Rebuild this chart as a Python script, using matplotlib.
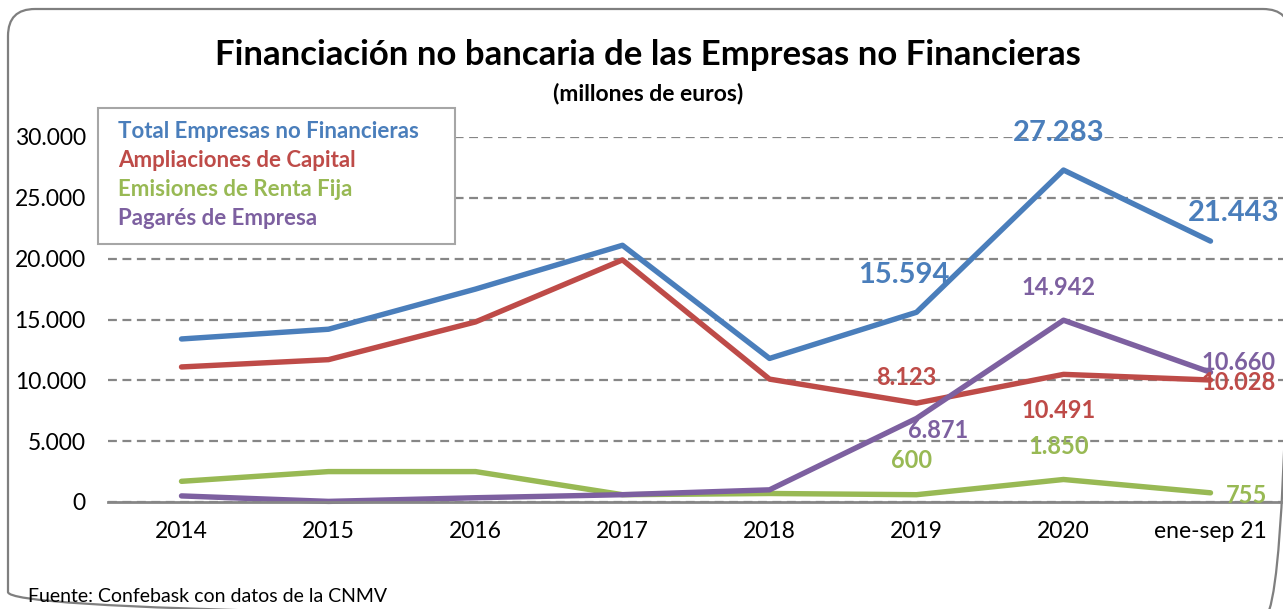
import numpy as np
import matplotlib.pyplot as plt
from matplotlib.patches import FancyBboxPatch, Rectangle
from matplotlib.ticker import FuncFormatter

plt.rcParams['font.family'] = ['Lato', 'DejaVu Sans']

# data (millones de euros)
periodos = ['2014', '2015', '2016', '2017', '2018', '2019', '2020', 'ene-sep 21']
total = [13400, 14200, 17500, 21100, 11800, 15594, 27283, 21443]
capital = [11100, 11700, 14800, 19900, 10100, 8123, 10491, 10028]
renta_fija = [1700, 2500, 2500, 600, 700, 600, 1850, 755]
pagares = [500, 50, 350, 600, 1000, 6871, 14942, 10660]

series = [
    ('Total Empresas no Financieras', total, '#4A7EBB'),
    ('Ampliaciones de Capital', capital, '#BE4B48'),
    ('Emisiones de Renta Fija', renta_fija, '#98B954'),
    ('Pagarés de Empresa', pagares, '#7D60A0'),
]

# labels shown for the last three periods: (series idx, point idx, dx px, dy px, size)
etiquetas = [
    (0, 5, -13, 37, 21), (0, 6, -5, 37, 21), (0, 7, 23, 28, 21),
    (1, 5, -10, 26, 17), (1, 6, -5, -36, 17), (1, 7, 28, -3, 17),
    (2, 5, -5, 34, 17), (2, 6, -5, 33, 17), (2, 7, 36, -3, 17),
    (3, 5, 22, -12, 17), (3, 6, -5, 33, 17), (3, 7, 28, 10, 17),
]


def miles(v, pos=None):
    return f'{int(round(v)):,}'.replace(',', '.')


W, H = 1283, 609
fig = plt.figure(figsize=(W / 100, H / 100), dpi=100)

# background layer in pixel coordinates (border, titles)
bg = fig.add_axes([0, 0, 1, 1], zorder=0)
bg.set_xlim(0, W)
bg.set_ylim(H, 0)
bg.axis('off')
bg.add_patch(FancyBboxPatch((8, 9), 1282, 610,
                            boxstyle='round,pad=0,rounding_size=27',
                            fill=False, edgecolor='#7f7f7f', linewidth=1.6,
                            clip_on=False))

ax = fig.add_axes([108 / W, 107 / H, 1176 / W, 365 / H], zorder=1)
ax.patch.set_alpha(0)
x = np.arange(len(periodos))
for nombre, vals, col in series:
    ax.plot(x, vals, color=col, linewidth=3.9, label=nombre,
            solid_capstyle='round', solid_joinstyle='round', clip_on=False)

for si, pi, dx, dy, fs in etiquetas:
    nombre, vals, col = series[si]
    ax.annotate(miles(vals[pi]), (x[pi], vals[pi]), xytext=(dx, dy),
                textcoords='offset pixels', ha='center', va='center',
                color=col, fontsize=fs, fontweight='bold', annotation_clip=False)

ax.set_xlim(-0.5, len(periodos) - 0.5)
ax.set_ylim(0, 30000)
ax.set_yticks(np.arange(0, 30001, 5000))
ax.yaxis.set_major_formatter(FuncFormatter(miles))
ax.set_xticks(x)
ax.set_xticklabels(periodos)
ax.tick_params(axis='both', length=0, labelsize=16.5, colors='black')
ax.tick_params(axis='y', pad=16)
ax.tick_params(axis='x', pad=14)
for s in ['top', 'right', 'left']:
    ax.spines[s].set_visible(False)
ax.spines['bottom'].set_color('#868686')
ax.spines['bottom'].set_linewidth(2)
ax.grid(axis='y', color='#868686', linestyle=(0, (4, 2.5)), linewidth=1.6)
ax.set_axisbelow(True)

# legend box (text only, coloured like the series), drawn above the plot
leg = fig.add_axes([0, 0, 1, 1], zorder=2)
leg.set_xlim(0, W)
leg.set_ylim(H, 0)
leg.axis('off')
leg.add_patch(Rectangle((98, 108), 357, 136, facecolor='white',
                        edgecolor='#a6a6a6', linewidth=1.5))
for i, (nombre, vals, col) in enumerate(series):
    leg.text(118, 131 + 29.3 * i, nombre, ha='left', va='center',
             color=col, fontsize=16, fontweight='bold')

bg.text(648, 55, 'Financiación no bancaria de las Empresas no Financieras',
        ha='center', va='center', fontsize=25, fontweight='bold')
bg.text(648, 93, '(millones de euros)',
        ha='center', va='center', fontsize=16.5, fontweight='bold')
bg.text(28, 597, 'Fuente: Confebask con datos de la CNMV',
        ha='left', va='center', fontsize=14)

fig.savefig('out.png', dpi=100)
